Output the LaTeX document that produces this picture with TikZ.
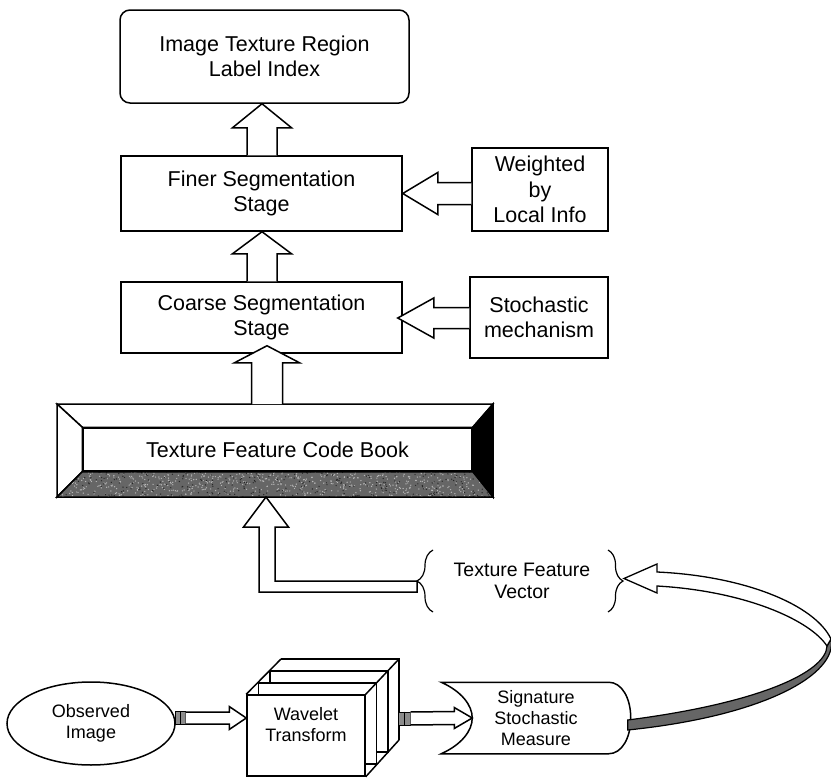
\documentclass[tikz,border=0pt]{standalone}
\usepackage{fontspec}
\setmainfont{Liberation Sans}
\usetikzlibrary{calc,shapes.geometric,decorations.pathreplacing}
\newcommand\vblk[5]{\draw[blk] ($(#2)+(-#3,0)$) -- ($(#1)+(-#3,#5)$) -- ($(#1)+(-#4,#5)$) -- (#1) -- ($(#1)+(#4,#5)$) -- ($(#1)+(#3,#5)$) -- ($(#2)+(#3,0)$);}
\newcommand\hblkL[5]{\draw[blk] ($(#2)+(0,-#3)$) -- ($(#1)+(#5,-#3)$) -- ($(#1)+(#5,-#4)$) -- (#1) -- ($(#1)+(#5,#4)$) -- ($(#1)+(#5,#3)$) -- ($(#2)+(0,#3)$);}
\newcommand\hblkR[5]{\draw[blk] ($(#2)+(0,-#3)$) -- ($(#1)+(-#5,-#3)$) -- ($(#1)+(-#5,-#4)$) -- (#1) -- ($(#1)+(-#5,#4)$) -- ($(#1)+(-#5,#3)$) -- ($(#2)+(0,#3)$);}
\begin{document}
\begin{tikzpicture}[x=1pt,y=-1pt,line width=1.5pt,line join=miter,
  box/.style={draw,rectangle,align=center,inner sep=0pt,font=\fontsize{21.5}{25.5}\selectfont},
  small/.style={align=center,inner sep=0pt,font=\fontsize{18}{21}\selectfont},
  blk/.style={draw,fill=white,line width=1.5pt},
  plug/.style={draw,fill=black!45,line width=1pt,inner sep=0pt},
  speckle/.style={fill=black!60},
  bracestyle/.style={decorate,line width=1.2pt}]
\useasboundingbox (0,0) rectangle (831,779);
\pgfmathsetseed{11}

% upper chain
\node[box,rounded corners=10pt,minimum width=289pt,minimum height=93pt] (top) at (264.5,56.5) {Image Texture Region\\Label Index};
\node[box,minimum width=281pt,minimum height=75pt] (finer) at (261.5,193.5) {Finer Segmentation\\Stage};
\node[box,minimum width=281pt,minimum height=71pt] (coarse) at (261.5,317.5) {Coarse Segmentation\\Stage};
\node[box,minimum width=136pt,minimum height=83pt] (weight) at (540,189.5) {Weighted\\by\\Local Info};
\node[box,minimum width=138pt,minimum height=81pt] (stoch) at (539,317.5) {Stochastic\\mechanism};

% code book
\coordinate (cbnw) at (57,404);
\coordinate (cbse) at (493,497);
\node[box,fill=white,minimum width=389pt,minimum height=43pt] (code) at (277.5,449.5) {Texture Feature Code Book};
\draw[fill=white] (cbnw) -- (cbnw -| cbse) -- (code.north east) -- (code.north west) -- cycle;
\draw[fill=white] (cbnw) -- (code.north west) -- (code.south west) -- (cbnw |- cbse) -- cycle;
\draw[fill=black] (cbnw -| cbse) -- (cbse) -- (code.south east) -- (code.north east) -- cycle;
\fill[speckle] (cbnw |- cbse) -- (cbse) -- (code.south east) -- (code.south west) -- cycle;
\begin{scope}
  \clip (cbnw |- cbse) -- (cbse) -- (code.south east) -- (code.south west) -- cycle;
  \foreach \i in {1,...,700}{
    \pgfmathsetmacro\rx{57+436*rnd}
    \pgfmathsetmacro\ry{471+26*rnd}
    \fill[black!28] (\rx,\ry) circle (0.7);
  }
  \foreach \i in {1,...,300}{
    \pgfmathsetmacro\rx{57+436*rnd}
    \pgfmathsetmacro\ry{471+26*rnd}
    \fill[black!85] (\rx,\ry) circle (0.7);
  }
\end{scope}
\draw (cbnw |- cbse) -- (cbse) -- (code.south east) -- (code.south west) -- cycle;

% vertical block arrows
\coordinate (t1) at ($(top.south)+(-2.5,0)$);
\coordinate (b1) at (t1 |- finer.north);
\vblk{t1}{b1}{15}{29.5}{24}
\coordinate (t2) at ($(finer.south)+(0.5,0)$);
\coordinate (b2) at (t2 |- coarse.north);
\vblk{t2}{b2}{15}{29.5}{22}
\coordinate (t3) at ($(coarse.south)+(5.5,-8)$);
\coordinate (b3) at (t3 |- cbnw);
\vblk{t3}{b3}{15.5}{32.5}{17}

% side block arrows
\coordinate (t4) at (finer.east);
\coordinate (b4) at (t4 -| weight.west);
\hblkL{t4}{b4}{11}{21}{35}
\coordinate (t5) at ($(coarse.east)+(-5,0.5)$);
\coordinate (b5) at (t5 -| stoch.west);
\hblkL{t5}{b5}{10.5}{20}{36}

% texture feature vector
\node[align=center,inner sep=0pt,font=\fontsize{19.5}{22}\selectfont] (vec) at (522,581) {Texture Feature\\Vector};
\coordinate (lbb) at (433,612);
\coordinate (lbt) at (433,550);
\coordinate (rbt) at (608,550);
\coordinate (rbb) at (608,612);
\draw[bracestyle,decoration={brace,amplitude=16pt}] (lbb) -- (lbt);
\draw[bracestyle,decoration={brace,amplitude=15pt}] (rbt) -- (rbb);
\coordinate (vtipL) at (417,586.5);
\coordinate (vtipR) at (624,578.5);

% L-shaped arrow into code book
\coordinate (t6) at ($(cbnw |- cbse)+(209,0)$);
\draw[blk] ($(vtipL)+(0,-5.5)$) -- ($(t6)+(9,84)$) -- ($(t6)+(9,30)$) -- ($(t6)+(22.5,30)$) -- (t6) -- ($(t6)+(-22.5,30)$) -- ($(t6)+(-7,30)$) -- ($(t6)+(-7,95)$) -- ($(vtipL)+(0,5.5)$) -- cycle;

% observed image
\node[draw,ellipse,minimum width=168pt,minimum height=83pt,small] (obs) at (91,723.5) {Observed\\Image};

% wavelet transform (stacked slabs)
\draw[fill=white] (270,671) rectangle (388,752);
\draw[fill=white] (258.5,683) rectangle (376.5,764);
\node[draw,fill=white,minimum width=118pt,minimum height=81pt,inner sep=0pt] (wav) at (306,735.5) {};
\coordinate (wbnw) at (281,659);
\coordinate (wbne) at (399,659);
\coordinate (wbse) at (399,740);
\draw (wbnw) -- (wbne) -- (wbse);
\draw (wav.north west) -- (wbnw);
\draw (wav.north east) -- (wbne);
\draw (wav.south east) -- (wbse);
\node[small] (wavt) at (306,725) {Wavelet\\Transform};

% signature stochastic measure
\node[small,minimum width=188pt,minimum height=70pt] (sig) at (536,718) {Signature\\Stochastic\\Measure};
\draw (sig.north west) -- ($(sig.north east)+(-22,0)$)
  .. controls ($(sig.north east)+(-9,0)$) and ($(sig.east)+(0,-20)$) .. (sig.east)
  .. controls ($(sig.east)+(0,20)$) and ($(sig.south east)+(-9,0)$) .. ($(sig.south east)+(-22,0)$)
  -- (sig.south west)
  .. controls ($(sig.south west)+(20,-9)$) and ($(sig.west)+(31,13)$) .. ($(sig.west)+(31,0)$)
  .. controls ($(sig.west)+(31,-13)$) and ($(sig.north west)+(20,9)$) .. (sig.north west) -- cycle;

% plugs and horizontal arrows
\node[plug,minimum width=10pt,minimum height=12.5pt] (p1) at (180,718) {};
\draw[line width=1pt] (p1.north) -- (p1.south);
\coordinate (t7) at (p1 -| wav.west);
\hblkR{t7}{p1.east}{6}{11.5}{17}
\node[plug,minimum width=12pt,minimum height=13pt] (p2) at (404,718.5) {};
\draw[line width=1pt] (p2.north) -- (p2.south);
\coordinate (t8) at ($(sig.west)+(31,0)$);
\hblkR{t8}{p2.east}{6.5}{10.5}{18}

% curved return arrow
\draw[speckle,line width=1.2pt] ($(sig.east)+(-3,2)$) .. controls (760,703) and (826,672) .. (827,646)
  -- (831,639) .. controls (838,674) and (765,716) .. ($(sig.east)+(-3,12)$) -- cycle;
\draw[blk,line width=1.3pt] (vtipR) -- (657,564) -- (657,572) .. controls (745,576) and (815,605) .. (831,639)
  -- (827,646) .. controls (810,620) and (745,591) .. (657,586) -- (657,593) -- cycle;
\end{tikzpicture}
\end{document}
